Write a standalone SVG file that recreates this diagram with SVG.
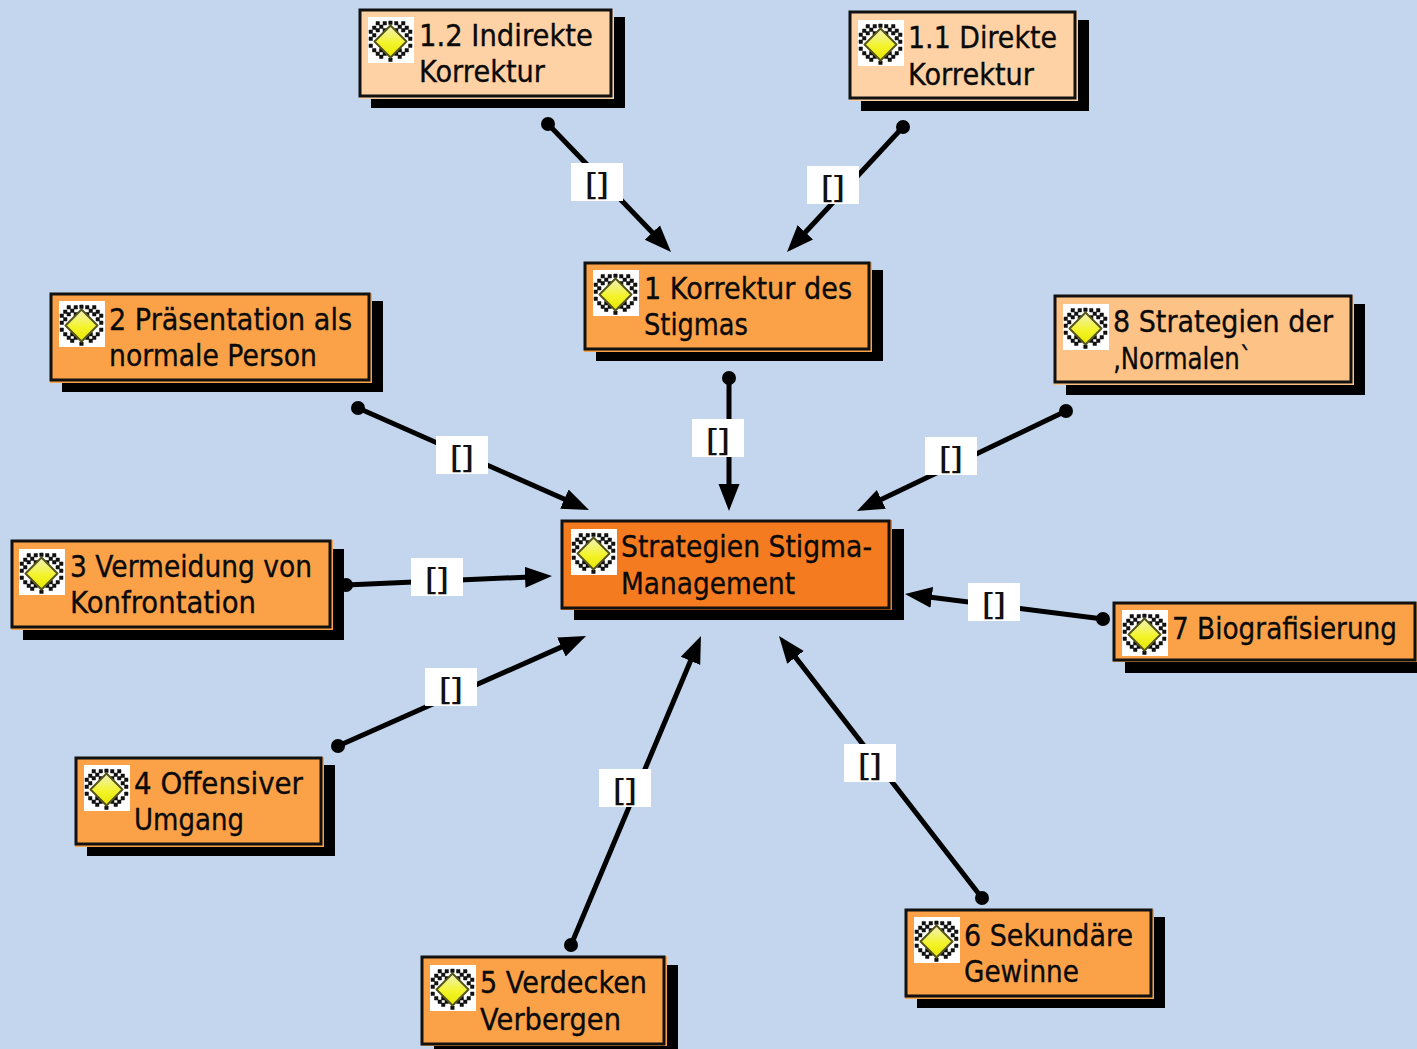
<svg xmlns="http://www.w3.org/2000/svg" width="1417" height="1049" viewBox="0 0 1417 1049">
<style>
.s{fill:#000}
.b{stroke:#111;stroke-width:3}
.t{font-family:"DejaVu Sans","Noto Sans",sans-serif;font-size:30px;fill:#0a0a0a;stroke:#0a0a0a;stroke-width:.35px}
.l{font-family:"DejaVu Sans","Noto Sans",sans-serif;font-size:31px;fill:#111;text-anchor:middle;letter-spacing:-3.800px}
.c{stroke:#000;stroke-width:5;fill:none;marker-start:url(#dot);marker-end:url(#arr)}
.lb{fill:#fff}
</style>
<defs>
<marker id="arr" markerUnits="userSpaceOnUse" markerWidth="30" markerHeight="26" viewBox="0 0 30 26" refX="17" refY="13" orient="auto"><path d="M0 2.500 L27 13 L0 23.500Z" fill="#000"/></marker>
<marker id="dot" markerUnits="userSpaceOnUse" markerWidth="16" markerHeight="16" viewBox="0 0 16 16" refX="8" refY="8"><circle cx="8" cy="8" r="7" fill="#000"/></marker>
<linearGradient id="g" x1="0" y1="0" x2="0" y2="1"><stop offset="0" stop-color="#f2f2c0"/><stop offset=".55" stop-color="#f3f32a"/><stop offset="1" stop-color="#e8e800"/></linearGradient>
<symbol id="ic" viewBox="0 0 46 46" width="46" height="46" overflow="visible">
<rect width="46" height="46" fill="#fff"/>
<path fill="#111" stroke="#111" stroke-width=".5" d="M8 4.500h3.500v3.500h-3.500zM15 4.500h3.500v3.500h-3.500zM11.500 8h3.500v3.500h-3.500zM4.500 9h3.500v3.500h-3.500zM8 11.500h3.500v3.500h-3.500zM15 11.500h3.500v3.500h-3.500zM33.500 4.500h3.500v3.500h-3.500zM26.500 4.500h3.500v3.500h-3.500zM30 8h3.500v3.500h-3.500zM37 9h3.500v3.500h-3.500zM33.500 11.500h3.500v3.500h-3.500zM26.500 11.500h3.500v3.500h-3.500zM1 13h3.500v3.500h-3.500zM4.500 16.500h3.500v3.500h-3.500zM1 20h3.500v3.500h-3.500zM40.500 13h3.500v3.500h-3.500zM37 16.500h3.500v3.500h-3.500zM40.500 20h3.500v3.500h-3.500zM1 27h3.500v3.500h-3.500zM40.500 27h3.500v3.500h-3.500zM4.500 31.500h3.500v3.500h-3.500zM37 31.500h3.500v3.500h-3.500zM11.500 31.500h3.500v3.500h-3.500zM30 31.500h3.500v3.500h-3.500zM8 35h3.500v3.500h-3.500zM33.500 35h3.500v3.500h-3.500zM15 35h3.500v3.500h-3.500zM26.500 35h3.500v3.500h-3.500zM11.500 38h3.500v3.500h-3.500zM30 38h3.500v3.500h-3.500zM20.700 41h3.500v3.500h-3.500zM20.700 4h3.500v3.500h-3.500z"/>
<path d="M22.500 8.500 L38.500 24.500 L22.500 40.500 L6.500 24.500Z" fill="url(#g)" stroke="#55551a" stroke-width="2" stroke-linejoin="round"/>
</symbol>
</defs>
<rect width="1417" height="1049" fill="#c3d6ed"/>
<g id="connectors">
<path class="c" d="M548 124L664.100 244.800"/>
<path class="c" d="M903 127L793.800 244.700"/>
<path class="c" d="M729 378V501"/>
<path class="c" d="M358 408L579.900 506"/>
<path class="c" d="M1066 411L866 506.700"/>
<path class="c" d="M346 585L542 576.400"/>
<path class="c" d="M1103 619L914.900 595.300"/>
<path class="c" d="M338 746L576.900 640.100"/>
<path class="c" d="M571 945L697.100 645.200"/>
<path class="c" d="M982 898L785.100 643.900"/>
<g id="connector-labels">
<rect class="lb" x="571" y="163" width="52" height="38"/><text class="l" transform="translate(594.500 195) scale(1.250 1)">[]</text>
<rect class="lb" x="807" y="166" width="52" height="38"/><text class="l" transform="translate(830.500 198) scale(1.250 1)">[]</text>
<rect class="lb" x="692" y="419" width="52" height="38"/><text class="l" transform="translate(715.500 451) scale(1.250 1)">[]</text>
<rect class="lb" x="436" y="436" width="52" height="38"/><text class="l" transform="translate(459.500 468) scale(1.250 1)">[]</text>
<rect class="lb" x="925" y="437" width="52" height="38"/><text class="l" transform="translate(948.500 469) scale(1.250 1)">[]</text>
<rect class="lb" x="411" y="558" width="52" height="38"/><text class="l" transform="translate(434.500 590) scale(1.250 1)">[]</text>
<rect class="lb" x="968" y="583" width="52" height="38"/><text class="l" transform="translate(991.500 615) scale(1.250 1)">[]</text>
<rect class="lb" x="425" y="668" width="52" height="38"/><text class="l" transform="translate(448.500 700) scale(1.250 1)">[]</text>
<rect class="lb" x="599" y="769" width="52" height="38"/><text class="l" transform="translate(622.500 801) scale(1.250 1)">[]</text>
<rect class="lb" x="844" y="744" width="52" height="38"/><text class="l" transform="translate(867.500 776) scale(1.250 1)">[]</text>
</g>
</g>
<g id="n12"><rect class="s" x="371" y="17" width="254" height="91"/><rect x="359" y="9" width="255" height="90" fill="#ffd2a5"/><rect class="b" x="360" y="10" width="251" height="86" fill="#ffd2a5"/><use href="#ic" x="368" y="17"/><text class="t" x="419" y="46" textLength="174" lengthAdjust="spacingAndGlyphs">1.2 Indirekte</text><text class="t" x="419" y="82" textLength="126" lengthAdjust="spacingAndGlyphs">Korrektur</text></g>
<g id="n11"><rect class="s" x="861" y="20" width="228" height="91"/><rect x="849" y="11" width="229" height="90" fill="#ffd2a5"/><rect class="b" x="850" y="12" width="225" height="86" fill="#ffd2a5"/><use href="#ic" x="858" y="20"/><text class="t" x="908" y="48" textLength="149" lengthAdjust="spacingAndGlyphs">1.1 Direkte</text><text class="t" x="908" y="85" textLength="126" lengthAdjust="spacingAndGlyphs">Korrektur</text></g>
<g id="n1"><rect class="s" x="596" y="270" width="287" height="91"/><rect x="584" y="262" width="288" height="90" fill="#fba249"/><rect class="b" x="585" y="263" width="284" height="86" fill="#fba249"/><use href="#ic" x="593" y="270"/><text class="t" x="644" y="299" textLength="208" lengthAdjust="spacingAndGlyphs">1 Korrektur des</text><text class="t" x="644" y="335" textLength="104" lengthAdjust="spacingAndGlyphs">Stigmas</text></g>
<g id="n2"><rect class="s" x="62" y="301" width="321" height="91"/><rect x="50" y="293" width="322" height="90" fill="#fba249"/><rect class="b" x="51" y="294" width="318" height="86" fill="#fba249"/><use href="#ic" x="59" y="301"/><text class="t" x="109" y="330" textLength="243" lengthAdjust="spacingAndGlyphs">2 Präsentation als</text><text class="t" x="109" y="366" textLength="208" lengthAdjust="spacingAndGlyphs">normale Person</text></g>
<g id="n8"><rect class="s" x="1066" y="304" width="299" height="91"/><rect x="1054" y="295" width="300" height="90" fill="#fdc285"/><rect class="b" x="1055" y="296" width="296" height="86" fill="#fdc285"/><use href="#ic" x="1063" y="304"/><text class="t" x="1113" y="332" textLength="220" lengthAdjust="spacingAndGlyphs">8 Strategien der</text><text class="t" x="1113" y="369" textLength="139" lengthAdjust="spacingAndGlyphs">‚Normalen`</text></g>
<g id="root"><rect class="s" x="574" y="529" width="330" height="91"/><rect x="561" y="520" width="331" height="90" fill="#f57b20"/><rect class="b" x="562" y="521" width="327" height="87" fill="#f57b20"/><use href="#ic" x="571" y="529"/><text class="t" x="621" y="557" textLength="251" lengthAdjust="spacingAndGlyphs">Strategien Stigma-</text><text class="t" x="621" y="594" textLength="174" lengthAdjust="spacingAndGlyphs">Management</text></g>
<g id="n3"><rect class="s" x="23" y="549" width="321" height="91"/><rect x="11" y="540" width="322" height="90" fill="#fba249"/><rect class="b" x="12" y="541" width="318" height="86" fill="#fba249"/><use href="#ic" x="19" y="549"/><text class="t" x="70" y="577" textLength="242" lengthAdjust="spacingAndGlyphs">3 Vermeidung von</text><text class="t" x="70" y="613" textLength="186" lengthAdjust="spacingAndGlyphs">Konfrontation</text></g>
<g id="n7"><rect class="s" x="1125" y="611" width="292" height="62"/><rect x="1113" y="602" width="304" height="60" fill="#fba249"/><rect class="b" x="1114" y="603" width="301" height="57" fill="#fba249"/><use href="#ic" x="1122" y="610"/><text class="t" x="1172" y="639" textLength="225" lengthAdjust="spacingAndGlyphs">7 Biografisierung</text></g>
<g id="n4"><rect class="s" x="87" y="765" width="248" height="91"/><rect x="75" y="757" width="249" height="90" fill="#fba249"/><rect class="b" x="76" y="758" width="245" height="86" fill="#fba249"/><use href="#ic" x="84" y="765"/><text class="t" x="134" y="794" textLength="169" lengthAdjust="spacingAndGlyphs">4 Offensiver</text><text class="t" x="134" y="830" textLength="110" lengthAdjust="spacingAndGlyphs">Umgang</text></g>
<g id="n5"><rect class="s" x="434" y="965" width="244" height="84"/><rect x="421" y="956" width="246" height="90" fill="#fba249"/><rect class="b" x="422" y="957" width="242" height="87" fill="#fba249"/><use href="#ic" x="430" y="965"/><text class="t" x="480" y="993" textLength="167" lengthAdjust="spacingAndGlyphs">5 Verdecken</text><text class="t" x="480" y="1030" textLength="141" lengthAdjust="spacingAndGlyphs">Verbergen</text></g>
<g id="n6"><rect class="s" x="917" y="917" width="248" height="91"/><rect x="905" y="909" width="249" height="90" fill="#fba249"/><rect class="b" x="906" y="910" width="245" height="86" fill="#fba249"/><use href="#ic" x="914" y="917"/><text class="t" x="964" y="946" textLength="169" lengthAdjust="spacingAndGlyphs">6 Sekundäre</text><text class="t" x="964" y="982" textLength="115" lengthAdjust="spacingAndGlyphs">Gewinne</text></g>
</svg>
